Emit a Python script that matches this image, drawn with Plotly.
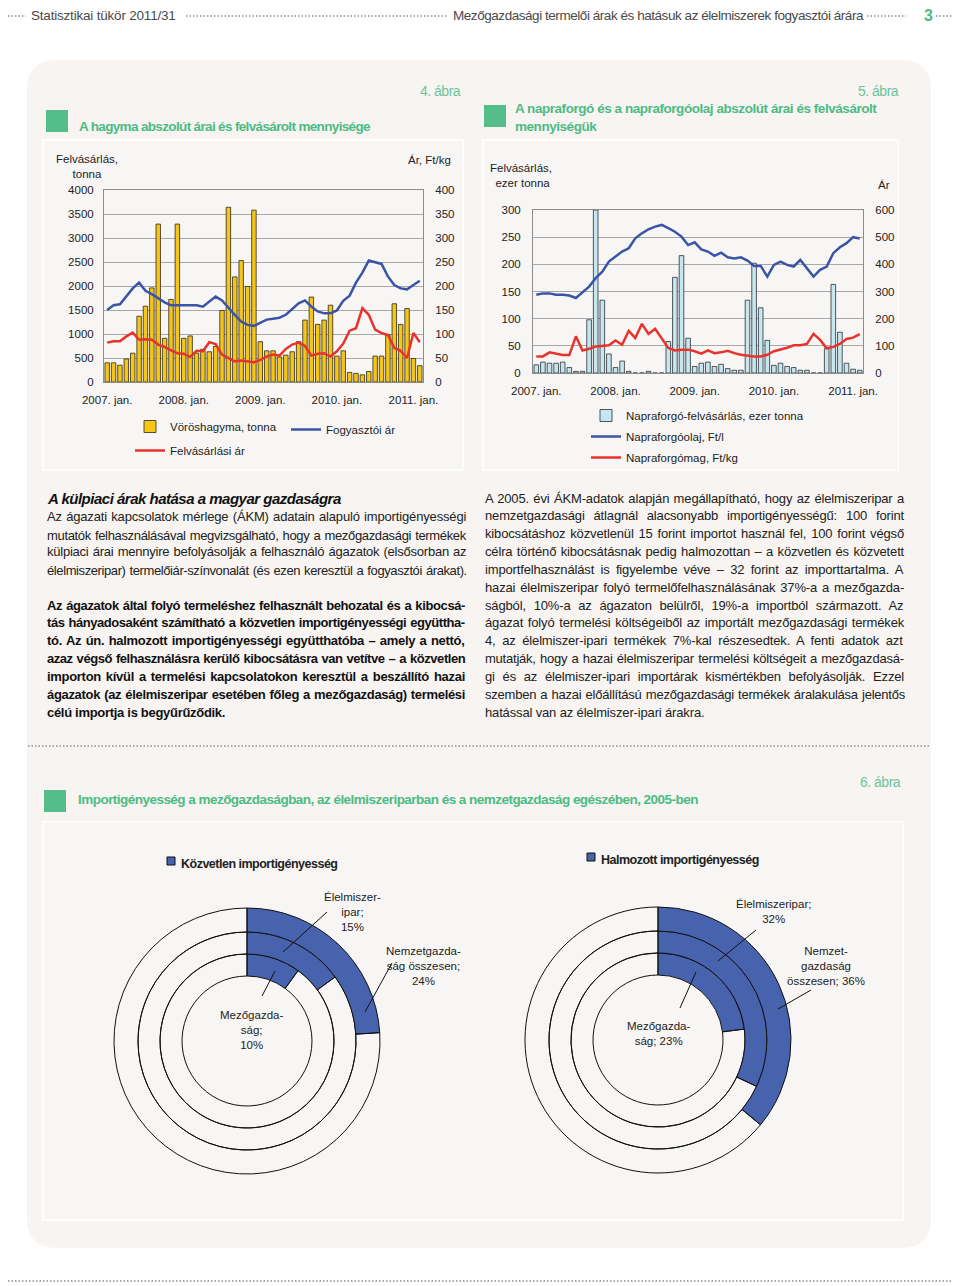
import unicodedata
import plotly.graph_objects as go

# The page puts the figure 8px from the top-left corner of the window,
# so the figure is 952x1278 and screen pixels are shifted by OFF.
W, H, OFF = 952, 1278, 8


def X(px):
    return (px - OFF) / W


def Y(py):
    return 1 - (py - OFF) / H


# ---------------- DATA ----------------
months = [f"{2007 + i // 12}-{i % 12 + 1:02d}" for i in range(50)]
year_ticks = ["2007-01", "2008-01", "2009-01", "2010-01", "2011-01"]
year_labels = ["2007. jan.", "2008. jan.", "2009. jan.", "2010. jan.", "2011. jan."]

onion_tonnes = [400, 400, 350, 480, 600, 1370, 1580, 1960, 3290, 910, 1720, 3290,
                910, 960, 600, 680, 630, 740, 1490, 3640, 2190, 2530, 1990, 3580,
                840, 650, 650, 520, 560, 630, 840, 1290, 1770, 1200, 1290, 1600,
                540, 650, 200, 180, 150, 220, 540, 540, 990, 1630, 1200, 1530,
                490, 340]
onion_consumer = [150, 160, 162, 178, 195, 207, 190, 183, 175, 166, 160, 160,
                  160, 160, 160, 157, 167, 178, 170, 154, 140, 126, 119, 117,
                  124, 130, 132, 134, 140, 152, 164, 170, 157, 147, 143, 143,
                  149, 169, 180, 207, 228, 253, 250, 246, 220, 202, 195, 193,
                  202, 211]
onion_purchase = [82, 85, 85, 95, 103, 88, 89, 88, 78, 73, 66, 60,
                  59, 52, 65, 64, 83, 79, 57, 50, 43, 45, 43, 41,
                  46, 53, 57, 55, 69, 78, 82, 75, 55, 59, 60, 53,
                  64, 80, 107, 112, 154, 140, 109, 102, 98, 71, 65, 50,
                  102, 83]

sun_tonnes = [15, 20, 18, 18, 20, 10, 3, 3, 98, 300, 134, 35,
              10, 22, 3, 0, 0, 3, 0, 0, 58, 176, 216, 64,
              12, 18, 20, 12, 16, 8, 5, 5, 134, 202, 120, 60,
              14, 18, 12, 10, 5, 5, 0, 0, 45, 163, 75, 18,
              7, 5]
sun_oil = [288, 293, 293, 288, 288, 285, 276, 298, 318, 349, 373, 410,
           428, 447, 459, 496, 514, 529, 539, 545, 533, 520, 502, 471,
           481, 455, 447, 431, 443, 426, 422, 426, 414, 394, 394, 355,
           398, 410, 398, 392, 416, 386, 355, 380, 392, 441, 463, 478,
           500, 495]
sun_seed = [61, 61, 76, 71, 66, 66, 135, 83, 89, 98, 100, 102,
            120, 104, 155, 129, 181, 144, 163, 125, 92, 83, 86, 86,
            80, 71, 83, 73, 76, 82, 73, 67, 64, 61, 61, 67,
            80, 86, 93, 102, 102, 107, 144, 122, 91, 96, 107, 125,
            130, 143]

ring_labels = ["Mezőgazdaság", "Élelmiszeripar", "Nemzetgazdaság összesen"]
direct_import = [10, 15, 24]
cumulative_import = [23, 32, 36]

# ---------------- STYLE ----------------
SANS = "Liberation Sans, Arial, sans-serif"
PANEL = "#f7f4f1"
GREEN = "#4dbb85"
GREEN_L = "#6cc49a"
BLUE = "#3b55a6"
RED = "#e8332c"
SLICE_BLUE = "#4763ad"
TXT = "#222222"

# approximate Arial / Liberation Sans advance widths (1/1000 em) for text justification
_REG = {" ": 278, "a": 556, "b": 556, "c": 500, "d": 556, "e": 556, "f": 278, "g": 556, "h": 556,
        "i": 222, "j": 222, "k": 500, "l": 222, "m": 833, "n": 556, "o": 556, "p": 556, "q": 556,
        "r": 333, "s": 500, "t": 278, "u": 556, "v": 500, "w": 722, "x": 500, "y": 500, "z": 500,
        "A": 667, "B": 667, "C": 722, "D": 722, "E": 667, "F": 611, "G": 778, "H": 722, "I": 278,
        "J": 500, "K": 667, "L": 556, "M": 833, "N": 722, "O": 778, "P": 667, "R": 722, "S": 667,
        "T": 611, "U": 722, "V": 667, "Z": 611, ".": 278, ",": 278, ";": 278, ":": 278, "-": 333,
        "–": 556, "(": 333, ")": 333, "%": 889, "/": 278}
_BOLD = {" ": 278, "a": 556, "b": 611, "c": 556, "d": 611, "e": 556, "f": 333, "g": 611, "h": 611,
         "i": 278, "j": 278, "k": 556, "l": 278, "m": 889, "n": 611, "o": 611, "p": 611, "q": 611,
         "r": 389, "s": 556, "t": 333, "u": 611, "v": 556, "w": 778, "x": 556, "y": 556, "z": 500,
         "A": 722, "Á": 722, "H": 722, ".": 278, ",": 278, "-": 333, "–": 556, "(": 333, ")": 333}


def text_width(s, size, bold=False):
    table = _BOLD if bold else _REG
    tot = 0
    for ch in s:
        base = unicodedata.normalize("NFD", ch)[0]
        tot += table.get(ch, table.get(base, 556))
    return tot * size / 1000


def styled(s, ls=0.0, ws=None):
    st = f"letter-spacing:{ls:.2f}px"
    if ws is not None:
        st += f";word-spacing:{ws:.2f}px"
    return f'<span style="{st}">{s}</span>'


def justify(s, size, target, ls, bold=False, min_ws=0.8):
    base = text_width(s, size, bold)
    n = s.count(" ")
    ws = (target - base - ls * len(s)) / n if n else 0
    if ws < min_ws:
        ws = min_ws
        ls = (target - base - n * ws) / len(s)
    return styled(s, ls, ws)


fig = go.Figure()

# ---- Figure 4 : onion ----
fig.add_trace(go.Bar(x=months, y=onion_tonnes, name="Vöröshagyma, tonna",
                     marker=dict(color="#f5c518", line=dict(color="#2f2a1c", width=0.8)),
                     xaxis="x", yaxis="y", legend="legend", legendgroup="a", hoverinfo="skip"))
fig.add_trace(go.Scatter(x=months, y=onion_consumer, name="Fogyasztói ár", mode="lines",
                         line=dict(color=BLUE, width=2.5), xaxis="x", yaxis="y2",
                         legend="legend3", legendgroup="b", hoverinfo="skip"))
fig.add_trace(go.Scatter(x=months, y=onion_purchase, name="Felvásárlási ár", mode="lines",
                         line=dict(color=RED, width=2.5), xaxis="x", yaxis="y2",
                         legend="legend", legendgroup="c", hoverinfo="skip"))

# ---- Figure 5 : sunflower ----
fig.add_trace(go.Bar(x=months, y=sun_tonnes, name="Napraforgó-felvásárlás, ezer tonna",
                     marker=dict(color="#c6e7ef", line=dict(color="#2a2f33", width=0.8)),
                     xaxis="x2", yaxis="y3", legend="legend2", legendgroup="d", hoverinfo="skip"))
fig.add_trace(go.Scatter(x=months, y=sun_oil, name="Napraforgóolaj, Ft/l", mode="lines",
                         line=dict(color=BLUE, width=2.5), xaxis="x2", yaxis="y4",
                         legend="legend2", legendgroup="e", hoverinfo="skip"))
fig.add_trace(go.Scatter(x=months, y=sun_seed, name="Napraforgómag, Ft/kg", mode="lines",
                         line=dict(color=RED, width=2.5), xaxis="x2", yaxis="y4",
                         legend="legend2", legendgroup="f", hoverinfo="skip"))


# ---- Figure 6 : concentric rings ----
def ring_domain(cx, cy, r):
    return dict(x=[X(cx - r), X(cx + r)], y=[Y(cy + r), Y(cy - r)])


ring_radii = [87, 109, 133]   # outer radius of inner, middle, outer ring
hole_inner = 65


def add_rings(values, cx, cy):
    for i, v in enumerate(values):
        r = ring_radii[i]
        inner = hole_inner if i == 0 else ring_radii[i - 1]
        fig.add_trace(go.Pie(
            values=[v, 100 - v], labels=[ring_labels[i], "egyéb"],
            domain=ring_domain(cx, cy, r), hole=inner / r,
            sort=False, direction="clockwise", rotation=0,
            marker=dict(colors=[SLICE_BLUE, "rgba(0,0,0,0)"],
                        line=dict(color="#111111", width=1)),
            textinfo="none", hoverinfo="skip", showlegend=False))


add_rings(direct_import, 247, 1041)
add_rings(cumulative_import, 658, 1040)

# ---------------- AXES ----------------
axis_common = dict(tickfont=dict(family=SANS, size=11.5, color=TXT), ticks="",
                   showline=True, linecolor="#8c8c8c", linewidth=1, zeroline=False,
                   automargin=False, fixedrange=True)

fig.update_layout(
    xaxis=dict(domain=[X(104), X(423)], anchor="y", type="category",
               tickmode="array", tickvals=year_ticks, ticktext=year_labels,
               showgrid=False, ticklabelstandoff=7, mirror=True, **axis_common),
    yaxis=dict(domain=[Y(382), Y(190)], anchor="x", range=[0, 4000], dtick=500,
               gridcolor="#a8a8a8", gridwidth=1, ticklabelstandoff=7, **axis_common),
    yaxis2=dict(overlaying="y", side="right", anchor="x", range=[0, 400], dtick=50,
                showgrid=False, ticklabelstandoff=9, **axis_common),
    xaxis2=dict(domain=[X(533), X(863)], anchor="y3", type="category",
                tickmode="array", tickvals=year_ticks, ticktext=year_labels,
                showgrid=False, ticklabelstandoff=7, mirror=True, **axis_common),
    yaxis3=dict(domain=[Y(373), Y(210)], anchor="x2", range=[0, 300], dtick=50,
                gridcolor="#a8a8a8", gridwidth=1, ticklabelstandoff=9, **axis_common),
    yaxis4=dict(overlaying="y3", side="right", anchor="x2", range=[0, 600], dtick=100,
                showgrid=False, ticklabelstandoff=9, **axis_common),
    bargap=0.3,
)

legend_common = dict(bgcolor="rgba(0,0,0,0)", font=dict(family=SANS, size=11.5, color=TXT),
                     orientation="v", xanchor="left", yanchor="top", traceorder="grouped",
                     itemwidth=30, itemclick=False, itemdoubleclick=False)
fig.update_layout(
    showlegend=True,
    legend=dict(x=X(130), y=Y(412), tracegroupgap=5, **legend_common),
    legend3=dict(x=X(286), y=Y(415), tracegroupgap=0, **legend_common),
    legend2=dict(x=X(586), y=Y(401), tracegroupgap=2, **legend_common),
)

# ---------------- SHAPES ----------------
shapes = []


def rrect_path(x0, y0, x1, y1, r):
    pts = [
        f"M {X(x0 + r)},{Y(y0)}", f"L {X(x1 - r)},{Y(y0)}", f"Q {X(x1)},{Y(y0)} {X(x1)},{Y(y0 + r)}",
        f"L {X(x1)},{Y(y1 - r)}", f"Q {X(x1)},{Y(y1)} {X(x1 - r)},{Y(y1)}",
        f"L {X(x0 + r)},{Y(y1)}", f"Q {X(x0)},{Y(y1)} {X(x0)},{Y(y1 - r)}",
        f"L {X(x0)},{Y(y0 + r)}", f"Q {X(x0)},{Y(y0)} {X(x0 + r)},{Y(y0)}", "Z"]
    return " ".join(pts)


HEAD_Y = 16
shapes.append(dict(type="path", xref="paper", yref="paper", path=rrect_path(27, 60, 931, 1248, 30),
                   fillcolor=PANEL, line=dict(width=0), layer="below"))
for (x0, y0, x1, y1) in [(43, 140, 463, 470), (483, 140, 898, 470), (43, 822, 903, 1220)]:
    shapes.append(dict(type="rect", xref="paper", yref="paper", x0=X(x0), x1=X(x1), y0=Y(y1), y1=Y(y0),
                       fillcolor="#f8f6f4", line=dict(color="#ffffff", width=1.5), layer="below"))
for (x0, y0) in [(46, 110), (484, 105), (44, 790)]:
    shapes.append(dict(type="rect", xref="paper", yref="paper", x0=X(x0), x1=X(x0 + 22), y0=Y(y0 + 22),
                       y1=Y(y0), fillcolor="#55bd8a", line=dict(width=0), layer="below"))
dot = dict(color="#a9a9a9", width=2, dash="1.5px,2px")
for (x0, x1, yy) in [(8, 26, HEAD_Y), (186, 447, HEAD_Y), (867, 906, HEAD_Y), (936, 960, HEAD_Y),
                     (28, 931, 746), (8, 960, 1281)]:
    shapes.append(dict(type="line", xref="paper", yref="paper", x0=X(x0), x1=X(x1), y0=Y(yy), y1=Y(yy),
                       line=dot))
for (x0, y0) in [(167, 857), (587, 853)]:
    shapes.append(dict(type="rect", xref="paper", yref="paper", x0=X(x0), x1=X(x0 + 8), y0=Y(y0 + 8),
                       y1=Y(y0), fillcolor=SLICE_BLUE, line=dict(color="#111", width=1)))
for (x0, y0, x1, y1) in [(327, 912, 283, 952), (392, 963, 365, 1012), (275, 971, 262, 996),
                         (756, 930, 718, 961), (811, 990, 778, 1009), (696, 972, 680, 1008)]:
    shapes.append(dict(type="line", xref="paper", yref="paper", x0=X(x0), y0=Y(y0), x1=X(x1), y1=Y(y1),
                       line=dict(color="#111", width=1)))

fig.update_layout(shapes=shapes)

# ---------------- TEXT ----------------
ann = []


def T(x, y, text, size=13, color=TXT, xanchor="left", align="left", ls=None):
    if ls is not None:
        text = styled(text, ls)
    ann.append(dict(x=X(x), y=Y(y), xref="paper", yref="paper", text=text, showarrow=False,
                    xanchor=xanchor, yanchor="middle", align=align,
                    font=dict(family=SANS, size=size, color=color)))


# header
T(29, HEAD_Y, "Statisztikai tükör 2011/31", size=13.5, color="#4a4a4a", ls=-0.2)
T(451, HEAD_Y, "Mezőgazdasági termelői árak és hatásuk az élelmiszerek fogyasztói árára", size=13.5,
  color="#4a4a4a", ls=-0.45)
T(928, HEAD_Y, "<b>3</b>", size=16, color=GREEN, xanchor="center")

# figure titles
T(463, 91, "4. ábra", size=14, color=GREEN_L, xanchor="right", ls=-0.5)
T(77, 126, "<b>" + styled("A hagyma abszolút árai és felvásárolt mennyisége", -0.65) + "</b>",
  size=13.5, color=GREEN)
T(901, 91, "5. ábra", size=14, color=GREEN_L, xanchor="right", ls=-0.5)
T(513, 108, "<b>" + styled("A napraforgó és a napraforgóolaj abszolút árai és felvásárolt", -0.45) + "</b>",
  size=13.5, color=GREEN)
T(513, 126, "<b>" + styled("mennyiségük", -0.45) + "</b>", size=13.5, color=GREEN)
T(903, 782, "6. ábra", size=14, color=GREEN_L, xanchor="right", ls=-0.5)
T(76, 800, "<b>" + styled("Importigényesség a mezőgazdaságban, az élelmiszeriparban és a nemzetgazdaság "
                          "egészében, 2005-ben", -0.53) + "</b>", size=13.5, color=GREEN)

# axis titles
T(87, 166, "Felvásárlás,<br>tonna", size=11.5, xanchor="center", align="center")
T(429, 160, "Ár, Ft/kg", size=11.5, xanchor="center")
T(521, 175, "Felvásárlás,<br> ezer tonna", size=11.5, xanchor="center", align="center")
T(884, 185, "Ár", size=11.5, xanchor="center")

# text columns
left_lines = [
    (517, "Az ágazati kapcsolatok mérlege (ÁKM) adatain alapuló importigényességi"),
    (535, "mutatók felhasználásával megvizsgálható, hogy a mezőgazdasági termékek"),
    (552, "külpiaci árai mennyire befolyásolják a felhasználó ágazatok (elsősorban az"),
    (570, "élelmiszeripar) termelőiár-színvonalát (és ezen keresztül a fogyasztói árakat)."),
]
left_bold = [
    (605, "Az ágazatok által folyó termeléshez felhasznált behozatal és a kibocsá-"),
    (623, "tás hányadosaként számítható a közvetlen importigényességi együttha-"),
    (641, "tó. Az ún. halmozott importigényességi együtthatóba – amely a nettó,"),
    (658, "azaz végső felhasználásra kerülő kibocsátásra van vetítve – a közvetlen"),
    (676, "importon kívül a termelési kapcsolatokon keresztül a beszállító hazai"),
    (694, "ágazatok (az élelmiszeripar esetében főleg a mezőgazdaság) termelési"),
    (712, "célú importja is begyűrűződik."),
]
right_lines = [
    "A 2005. évi ÁKM-adatok alapján megállapítható, hogy az élelmiszeripar a",
    "nemzetgazdasági átlagnál alacsonyabb importigényességű: 100 forint",
    "kibocsátáshoz közvetlenül 15 forint importot használ fel, 100 forint végső",
    "célra történő kibocsátásnak pedig halmozottan – a közvetlen és közvetett",
    "importfelhasználást is figyelembe véve – 32 forint az importtartalma. A",
    "hazai élelmiszeripar folyó termelőfelhasználásának 37%-a a mezőgazda-",
    "ságból, 10%-a az ágazaton belülről, 19%-a importból származott. Az",
    "ágazat folyó termelési költségeiből az importált mezőgazdasági termékek",
    "4, az élelmiszer-ipari termékek 7%-kal részesedtek. A fenti adatok azt",
    "mutatják, hogy a hazai élelmiszeripar termelési költségeit a mezőgazdasá-",
    "gi és az élelmiszer-ipari importárak kismértékben befolyásolják. Ezzel",
    "szemben a hazai előállítású mezőgazdasági termékek áralakulása jelentős",
    "hatással van az élelmiszer-ipari árakra.",
]
BODY = 13
T(45, 498, "<b><i>" + styled("A külpiaci árak hatása a magyar gazdaságra", -0.5) + "</i></b>",
  size=15, color="#111")
for y, s in left_lines:
    T(45, y, justify(s, BODY, 419, -0.15), size=BODY)
for i, (y, s) in enumerate(left_bold):
    txt = justify(s, BODY, 418, -0.3, bold=True) if i < len(left_bold) - 1 else styled(s, -0.3)
    T(45, y, "<b>" + txt + "</b>", size=BODY, color="#111")
for i, s in enumerate(right_lines):
    txt = justify(s, BODY, 419, -0.15) if i < len(right_lines) - 1 else styled(s, -0.15)
    T(483, 498 + i * 17.85, txt, size=BODY)

# ring chart legends and labels
T(179, 864, "<b>" + styled("Közvetlen importigényesség", -0.5) + "</b>", size=12.5)
T(599, 860, "<b>" + styled("Halmozott importigényesség", -0.5) + "</b>", size=12.5)
T(352, 912, "Élelmiszer-<br>ipar;<br>15%", size=11.5, xanchor="center", align="center")
T(423, 966, "Nemzetgazda-<br>ság összesen;<br>24%", size=11.5, xanchor="center", align="center")
T(252, 1030, "Mezőgazda-<br>ság;<br>10%", size=11.5, xanchor="center", align="center")
T(773, 911, "Élelmiszeripar;<br>32%", size=11.5, xanchor="center", align="center")
T(826, 966, "Nemzet-<br>gazdaság<br>összesen; 36%", size=11.5, xanchor="center", align="center")
T(658, 1033, "Mezőgazda-<br>ság; 23%", size=11.5, xanchor="center", align="center")

fig.update_layout(annotations=ann)

fig.update_layout(width=W, height=H,
                  margin=dict(l=0, r=0, t=0, b=0, pad=0, autoexpand=False),
                  paper_bgcolor="#ffffff", plot_bgcolor="rgba(0,0,0,0)",
                  font=dict(family=SANS, color=TXT), hovermode=False)

fig.write_html("out.html", config={"displayModeBar": False})
